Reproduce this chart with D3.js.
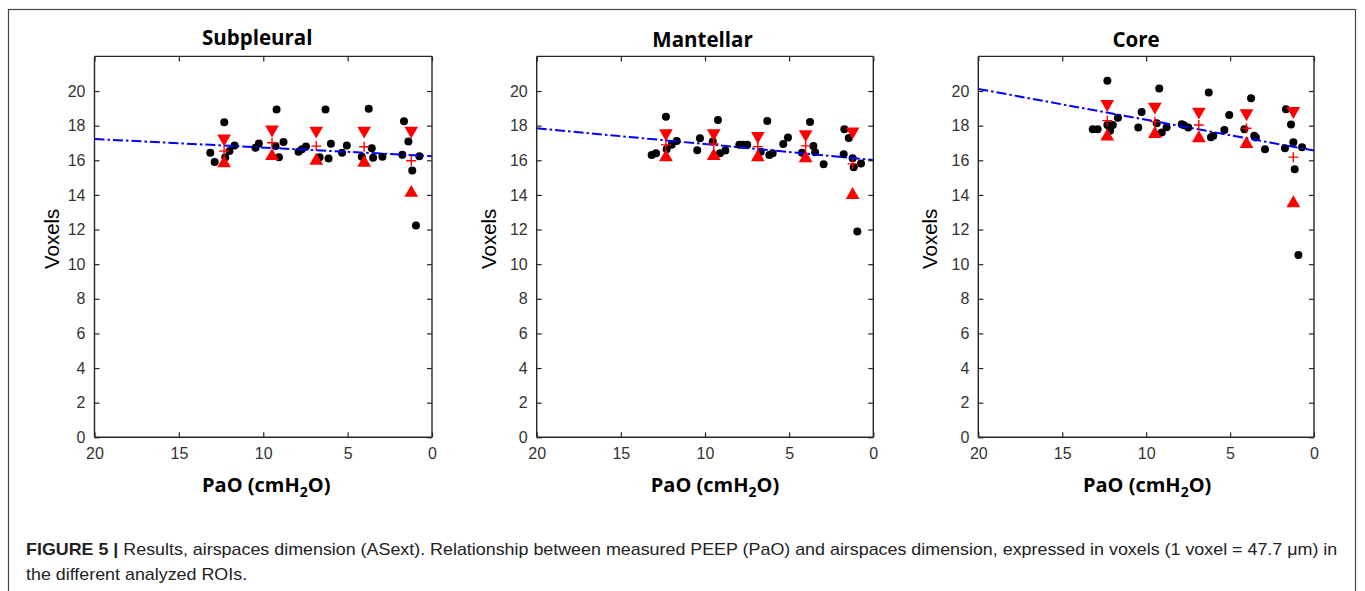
<!DOCTYPE html>
<html><head><meta charset="utf-8">
<script src="https://cdn.jsdelivr.net/npm/d3@7"></script>
<style>body{margin:0;background:#fff} svg{display:block}</style>
</head><body><svg id="c" width="1365" height="591"></svg>
<script>
// ---------------- data ----------------
const panelTitles = ["Subpleural", "Mantellar", "Core"];
const xTickValues = [20, 15, 10, 5, 0];
const yTickValues = [0, 2, 4, 6, 8, 10, 12, 14, 16, 18, 20];
const xLabel = "PaO (cmH";
const yLabel = "Voxels";

// individual measurements [PaO, voxels]
const subpleuralPoints = [
  [13.14,16.43],[12.88,15.90],[12.31,18.19],[12.25,16.17],[12.00,16.53],[11.70,16.86],
  [10.46,16.72],[10.26,16.97],[9.21,18.94],[9.27,16.82],[9.07,16.18],[8.80,17.05],
  [7.91,16.49],[7.71,16.63],[7.47,16.80],[6.66,16.17],[6.31,18.94],[6.13,16.11],
  [5.99,16.96],[5.33,16.44],[5.05,16.86],[4.16,16.20],[3.75,18.98],[3.57,16.69],
  [3.49,16.15],[2.94,16.20],[1.66,18.25],[1.76,16.32],[1.40,17.09],[1.17,15.41],
  [0.95,12.24],[0.75,16.24]
];
const mantellarPoints = [
  [13.17,16.31],[12.91,16.41],[12.32,18.52],[12.28,16.64],[11.98,16.89],[11.68,17.12],
  [10.46,16.58],[10.30,17.27],[9.54,17.08],[9.23,18.33],[9.11,16.41],[8.79,16.56],
  [7.96,16.89],[7.72,16.89],[7.49,16.89],[6.69,16.50],[6.18,16.31],[5.98,16.41],
  [6.30,18.27],[5.35,16.94],[5.07,17.31],[4.24,16.44],[3.76,18.21],[3.56,16.83],
  [3.46,16.46],[2.95,15.77],[1.72,17.79],[1.46,17.29],[1.76,16.35],[1.23,16.12],
  [1.16,15.60],[0.73,15.81],[0.95,11.88]
];
const corePoints = [
  [13.18,17.79],[12.89,17.79],[12.31,20.60],[12.31,18.04],[12.15,17.71],[11.99,18.04],
  [11.68,18.46],[10.47,17.89],[10.27,18.79],[9.22,20.14],[9.37,18.14],[9.07,17.60],
  [8.78,17.91],[7.88,18.08],[7.75,18.02],[7.49,17.89],[6.27,19.91],[6.14,17.33],
  [6.00,17.41],[5.34,17.75],[5.05,18.62],[4.15,17.79],[3.75,19.58],[3.56,17.41],
  [3.46,17.31],[2.92,16.64],[1.67,18.95],[1.37,18.06],[1.73,16.70],[1.23,17.04],
  [1.15,15.48],[0.71,16.75],[0.93,10.53]
];

// group summaries (mean PaO of each PEEP step)
const groupPaO = [12.32, 9.48, 6.86, 4.02, 1.23];
const subpleuralMean  = [16.53, 17.01, 16.82, 16.78, 15.97];
const subpleuralUpper = [17.26, 17.78, 17.71, 17.71, 17.71];
const subpleuralLower = [15.82, 16.24, 15.97, 15.86, 14.12];
const mantellarMean  = [16.89, 16.94, 16.79, 16.83, 15.79];
const mantellarUpper = [17.56, 17.56, 17.41, 17.50, 17.66];
const mantellarLower = [16.18, 16.25, 16.18, 16.12, 14.00];
const coreMean  = [18.29, 18.23, 18.04, 17.85, 16.18];
const coreUpper = [19.25, 19.10, 18.81, 18.72, 18.85];
const coreLower = [17.37, 17.52, 17.27, 16.94, 13.52];

// linear fit: value at PaO = 20 and at PaO = 0
const fitAt20 = [17.23, 17.85, 20.12];
const fitAt0  = [16.24, 16.02, 16.56];

const captionBold = "FIGURE 5 |";
const captionLine1 = " Results, airspaces dimension (ASext). Relationship between measured PEEP (PaO) and airspaces dimension, expressed in voxels (1 voxel = 47.7 \u03BCm) in";
const captionLine2 = "the different analyzed ROIs.";

// ---------------- layout ----------------
const panelData = [
  {pts: subpleuralPoints, mean: subpleuralMean, up: subpleuralUpper, lo: subpleuralLower},
  {pts: mantellarPoints, mean: mantellarMean, up: mantellarUpper, lo: mantellarLower},
  {pts: corePoints, mean: coreMean, up: coreUpper, lo: coreLower}
];
const axLeft = [94.5, 536.7, 978.3];
const axRight = [432, 873.3, 1314];
const axTop = 56.4, axBottom = 437.3;
const titleDx = [-6, -2.5, -10];
const titleY = [44.5, 47, 47];
const xLabelDx = [3, 10, 1];
const yLabelDx = [-43, -48, -48];
const axisColor = "#262626";

const svg = d3.select("#c");
svg.append("rect").attr("x", 0).attr("y", 0).attr("width", 1365).attr("height", 591).attr("fill", "#fff");
svg.append("rect").attr("x", 8.5).attr("y", 9.5).attr("width", 1347).attr("height", 590)
  .attr("fill", "none").attr("stroke", "#444").attr("stroke-width", 1.2);

const upTri = d3.symbol(d3.symbolTriangle, 82)();

panelData.forEach((pd, i) => {
  const x = d3.scaleLinear().domain([20, 0]).range([axLeft[i], axRight[i]]);
  const y = d3.scaleLinear().domain([0, 22]).range([axBottom, axTop]);
  const g = svg.append("g");

  // points
  g.append("g").selectAll("circle").data(pd.pts).join("circle")
    .attr("cx", d => x(d[0])).attr("cy", d => y(d[1])).attr("r", 4).attr("fill", "#000");

  // fit line
  g.append("line")
    .attr("x1", x(20)).attr("y1", y(fitAt20[i]))
    .attr("x2", x(0)).attr("y2", y(fitAt0[i]))
    .attr("stroke", "#0000ff").attr("stroke-width", 2)
    .attr("stroke-dasharray", "10,3,2.5,3");

  // group markers
  g.append("g").selectAll("path.dn").data(groupPaO).join("path")
    .attr("d", upTri).attr("fill", "#ff0000")
    .attr("transform", (d, k) => `translate(${x(d)},${y(pd.up[k])}) rotate(180)`);
  g.append("g").selectAll("path.up").data(groupPaO).join("path")
    .attr("d", upTri).attr("fill", "#ff0000")
    .attr("transform", (d, k) => `translate(${x(d)},${y(pd.lo[k])})`);
  g.append("g").selectAll("path.pl").data(groupPaO).join("path")
    .attr("d", "M-5,0H5M0,-5V5").attr("stroke", "#ff0000").attr("stroke-width", 1.4).attr("fill", "none")
    .attr("transform", (d, k) => `translate(${x(d)},${y(pd.mean[k])})`);

  // axes (MATLAB box style, inward ticks)
  const fontTicks = "'Liberation Sans', Arial, sans-serif";
  const xb = g.append("g").attr("transform", `translate(0,${axBottom})`)
    .call(d3.axisBottom(x).tickValues(xTickValues).tickSize(-5).tickPadding(10).tickFormat(d3.format("d")));
  const xt = g.append("g").attr("transform", `translate(0,${axTop})`)
    .call(d3.axisTop(x).tickValues(xTickValues).tickSize(-5).tickFormat(""));
  const yl = g.append("g").attr("transform", `translate(${axLeft[i]},0)`)
    .call(d3.axisLeft(y).tickValues(yTickValues).tickSize(-5).tickPadding(9).tickFormat(d3.format("d")));
  const yr = g.append("g").attr("transform", `translate(${axRight[i]},0)`)
    .call(d3.axisRight(y).tickValues(yTickValues).tickSize(-5).tickFormat(""));
  [xb, xt, yl, yr].forEach(a => {
    a.select(".domain").attr("stroke", axisColor).attr("stroke-width", 1.4)
      .attr("d", a === xb || a === xt ? `M${axLeft[i]},0H${axRight[i]}` : `M0,${axTop}V${axBottom}`);
    a.selectAll(".tick line").attr("stroke", axisColor).attr("stroke-width", 1.2);
    a.selectAll(".tick text").attr("fill", "#333").style("font-family", fontTicks).style("font-size", "16px");
  });

  // title
  g.append("text").attr("x", (axLeft[i] + axRight[i]) / 2 + titleDx[i]).attr("y", titleY[i])
    .attr("text-anchor", "middle").style("font-family", "'Open Sans', sans-serif")
    .style("font-weight", "bold").style("font-size", "20.5px").attr("fill", "#000").text(panelTitles[i]);

  // x label with subscript
  const xl = g.append("text").attr("x", (axLeft[i] + axRight[i]) / 2 + xLabelDx[i]).attr("y", 492)
    .attr("text-anchor", "middle").style("font-family", "'Open Sans', sans-serif")
    .style("font-weight", "bold").style("font-size", "20px").attr("fill", "#000");
  xl.append("tspan").text(xLabel);
  xl.append("tspan").attr("dy", 5).style("font-size", "14px").text("2");
  xl.append("tspan").attr("dy", -5).text("O)");

  // y label
  g.append("text").attr("transform", `translate(${axLeft[i] + yLabelDx[i] + 7},${(axTop + axBottom) / 2 - 8}) rotate(-90)`)
    .attr("text-anchor", "middle").style("font-family", fontTicks).style("font-size", "20.5px")
    .attr("fill", "#000").text(yLabel);
});

// caption
const capFont = "'Liberation Sans Narrow', 'Arial Narrow', 'Liberation Sans', sans-serif";
const cap = svg.append("g").attr("transform", "translate(26,0)");
const c1 = cap.append("text").attr("x", 0).attr("y", 555)
  .style("font-family", capFont).style("font-size", "16px").attr("fill", "#222");
c1.append("tspan").style("font-weight", "bold").text(captionBold);
c1.append("tspan").text(captionLine1);
const natural = c1.node().getComputedTextLength();
const sx = 1312 / natural;
c1.attr("transform", `scale(${sx},1)`);
cap.append("text").attr("x", 0).attr("y", 580).attr("transform", `scale(${sx},1)`)
  .style("font-family", capFont).style("font-size", "16px").attr("fill", "#222").text(captionLine2);
</script>
</body></html>
